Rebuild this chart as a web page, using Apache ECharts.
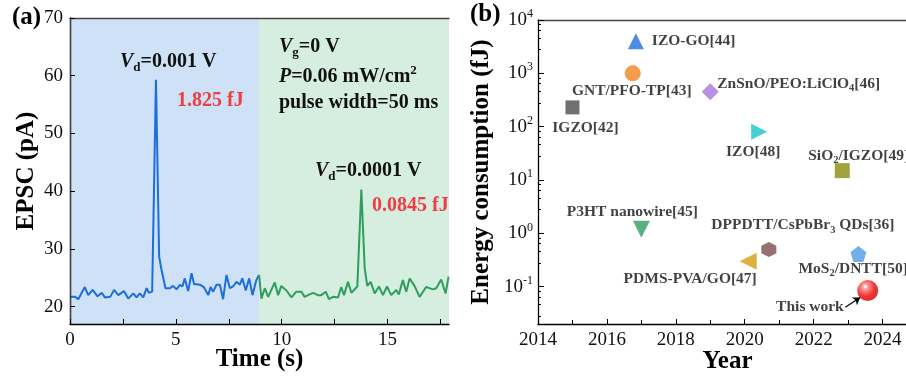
<!DOCTYPE html>
<html><head><meta charset="utf-8">
<script src="https://cdn.jsdelivr.net/npm/echarts@6/dist/echarts.min.js"></script>
<style>html,body{margin:0;padding:0;background:#fff}#c{width:906px;height:376px}</style>
</head><body><div id="c"></div>
<script>
// ---- Panel (a) data ----
const timesBlue = [0,0.24,0.39,0.7,0.86,1.07,1.3,1.5,1.65,1.9,2.08,2.28,2.55,2.75,2.99,3.14,3.3,3.46,3.62,3.73,3.88,3.95,4.06,4.21,4.32,4.51,4.72,4.87,5.03,5.19,5.31,5.42,5.58,5.74,5.86,5.97,6.13,6.32,6.53,6.64,6.76,6.92,7.08,7.23,7.39,7.55,7.7,7.86,8.02,8.14,8.3,8.46,8.62,8.8,8.93];
const valuesBlue = [21.7,21.7,21.3,23.4,22.0,22.9,21.8,22.4,21.6,21.7,22.9,22.0,22.7,21.4,22.3,21.6,22.3,21.6,23.2,22.4,22.6,22.7,59.3,28.7,26.4,23.2,23.2,23.6,23.0,23.8,23.5,24.9,22.7,25.8,23.9,23.9,23.8,23.4,22.0,23.4,22.6,23.8,23.8,21.3,25.5,23.2,23.5,24.3,23.8,24.9,22.8,24.9,22.0,24.6,25.5];
const timesGreen = [8.93,9.04,9.2,9.36,9.67,9.83,9.98,10.22,10.46,10.69,10.93,11.08,11.24,11.48,11.71,11.87,12.08,12.23,12.42,12.66,12.81,12.94,13.13,13.29,13.57,13.66,13.76,13.92,14.04,14.2,14.39,14.59,14.78,14.97,15.17,15.41,15.53,15.72,15.88,16.04,16.27,16.51,16.82,17.14,17.3,17.53,17.74,17.88];
const valuesGreen = [25.5,21.4,23.2,21.7,24.2,22.0,23.6,22.8,21.6,22.6,22.6,21.7,22.0,22.4,22.0,22.0,22.6,21.3,21.7,21.6,23.4,22.0,24.3,22.4,23.5,23.6,40.3,26.6,23.6,24.3,22.3,23.5,22.0,23.5,22.0,22.9,22.1,24.6,22.6,24.9,23.6,21.7,23.4,23.0,23.2,24.7,22.3,25.2];
const regionBlue = [0, 8.93];
const regionGreen = [8.93, 17.9];
const timeTickLabels = [0,5,10,15];
const epscTickLabels = [20,30,40,50,60,70];

// ---- Panel (b) data ----
const deviceNames = ['IGZO[42]','GNT/PFO-TP[43]','IZO-GO[44]','ZnSnO/PEO:LiClO{s|4}[46]','IZO[48]','SiO{s|2}/IGZO[49]','P3HT nanowire[45]','DPPDTT/CsPbBr{s|3} QDs[36]','PDMS-PVA/GO[47]','MoS{s|2}/DNTT[50]','This work'];
const deviceYears = [2015.0,2016.75,2016.84,2019.0,2020.42,2022.83,2017.0,2020.7,2020.1,2023.3,2023.57];
const deviceEnergy = [230,1000,4000,450,80,15,1.2,0.5,0.3,0.41,0.0845];
const yearTicks = [2014,2016,2018,2020,2022,2024];

// ---- styles ----
const SERIF = '"Liberation Serif","Times New Roman",serif';
const hexPath = 'path://M0,-10 L8.66,-5 L8.66,5 L0,10 L-8.66,5 L-8.66,-5Z';
const pentPath = 'path://M0,-10 L9.51,-3.09 L5.88,8.09 L-5.88,8.09 L-9.51,-3.09Z';
const sphere = {type:'radial',x:0.38,y:0.32,r:0.75,colorStops:[{offset:0,color:'#ffffff'},{offset:0.22,color:'#ff7070'},{offset:0.6,color:'#f00000'},{offset:1,color:'#c00000'}]};
const markerStyles = [
  {symbol:'rect',size:14,rot:0,color:'#4d4d4d',align:'center',off:[13,21]},
  {symbol:'circle',size:16,rot:0,color:'#f58220',align:'center',off:[-1,18]},
  {symbol:'triangle',size:16,rot:0,color:'#1f6fdf',align:'left',off:[16,0]},
  {symbol:'diamond',size:17,rot:0,color:'#a873dc',align:'left',off:[7,-8]},
  {symbol:'triangle',size:16,rot:-90,color:'#19c4c9',align:'center',off:[-6,20]},
  {symbol:'rect',size:15,rot:0,color:'#8a8a0e',align:'left',off:[-34,-15]},
  {symbol:'triangle',size:17,rot:180,color:'#2f9e62',align:'center',off:[-9,-17]},
  {symbol:hexPath,size:15,rot:0,color:'#7b4d4d',align:'center',off:[34,-24]},
  {symbol:'triangle',size:17,rot:90,color:'#d39e12',align:'center',off:[-58,18]},
  {symbol:pentPath,size:16,rot:0,color:'#4f9be2',align:'left',off:[-60,15]},
  {symbol:'circle',size:21,rot:0,color:sphere,align:'right',off:[-24,16]}
];

function pairs(xs, ys){ return xs.map((x,i)=>[x, ys[i]]); }
function supLabel(v){
  const e = Math.round(Math.log10(v));
  if (Math.abs(Math.log10(v) - e) > 1e-6) return '';
  return '{b|10}{s|' + e + '}';
}

const chart = echarts.init(document.getElementById('c'), null, {renderer:'canvas'});

const tickLabelStyle = {fontFamily:SERIF, fontSize:19, color:'#111'};
const nameStyle = {fontFamily:SERIF, fontSize:25, fontWeight:'bold', color:'#000'};
const lineAx = {lineStyle:{color:'#000', width:1.3}};

const scatterData = deviceNames.map((n,i)=>{
  const m = markerStyles[i];
  return {
    value:[deviceYears[i], deviceEnergy[i]],
    symbol:m.symbol, symbolSize:m.size, symbolRotate:m.rot,
    itemStyle:{color:m.color},
    label:{show:true, position:'inside', align:m.align, verticalAlign:'middle', offset:m.off,
      formatter:n, fontFamily:SERIF, fontSize:15.5, fontWeight:'bold', color:'#111',
      rich:{s:{fontFamily:SERIF, fontSize:10.5, fontWeight:'bold', color:'#111', lineHeight:10, padding:[9,0,0,0]}}}
  };
});

const richA = {
  n:{fontFamily:SERIF,fontSize:20,fontWeight:'bold',fill:'#111',lineHeight:28},
  i:{fontFamily:SERIF,fontSize:20,fontWeight:'bold',fontStyle:'italic',fill:'#111',lineHeight:28},
  sub:{fontFamily:SERIF,fontSize:13,fontWeight:'bold',fill:'#111',lineHeight:13,padding:[11,0,0,0]},
  sup:{fontFamily:SERIF,fontSize:13,fontWeight:'bold',fill:'#111',lineHeight:13,padding:[0,0,13,0]},
  r:{fontFamily:SERIF,fontSize:20,fontWeight:'bold',fill:'#ee3e44',lineHeight:28}
};
function txt(x,y,text){
  return {type:'text', x:x, y:y, z:100, style:{text:text, rich:richA, align:'left', verticalAlign:'middle', fill:'#111', font:'bold 20px '+SERIF}};
}

const option = {
  backgroundColor:'#fff',
  animation:false,
  grid:[
    {left:70, top:18, width:379, height:306, outerBoundsMode:'none', containLabel:false},
    {left:538, top:20, width:379, height:304, outerBoundsMode:'none', containLabel:false}
  ],
  xAxis:[
    {gridIndex:0, type:'value', min:0, max:17.9, position:'bottom', z:10,
     axisLine:lineAx, splitLine:{show:false},
     axisTick:{inside:true, length:5, customValues:[0,2.5,5,7.5,10,12.5,15,17.5], lineStyle:{color:'#000'}},
     axisLabel:{customValues:timeTickLabels, margin:7, ...tickLabelStyle},
     name:'Time (s)', nameLocation:'middle', nameGap:23, nameMoveOverlap:false, nameTextStyle:nameStyle},
    {gridIndex:0, type:'value', min:0, max:17.9, position:'top', z:10,
     axisLine:{lineStyle:{color:'#444', width:1.3}}, axisTick:{show:false}, axisLabel:{show:false}, splitLine:{show:false}},
    {gridIndex:1, type:'value', min:2014, max:2025, interval:2, position:'bottom', z:10,
     axisLine:lineAx, splitLine:{show:false},
     axisTick:{inside:true, length:5, lineStyle:{color:'#000'}},
     minorTick:{show:true, splitNumber:2, length:4, lineStyle:{color:'#000'}},
     axisLabel:{margin:7, formatter:v=>String(v), showMaxLabel:false, ...tickLabelStyle},
     name:'Year', nameLocation:'middle', nameGap:25, nameMoveOverlap:false, nameTextStyle:nameStyle},
    {gridIndex:1, type:'value', min:2014, max:2025, position:'top', z:10,
     axisLine:{lineStyle:{color:'#444', width:1.3}}, axisTick:{show:false}, axisLabel:{show:false}, splitLine:{show:false}}
  ],
  yAxis:[
    {gridIndex:0, type:'value', min:17, max:70, position:'left', z:10,
     axisLine:lineAx, splitLine:{show:false},
     axisTick:{inside:true, length:5, customValues:epscTickLabels, lineStyle:{color:'#000'}},
     axisLabel:{customValues:epscTickLabels, margin:7, ...tickLabelStyle},
     name:'EPSC (pA)', nameLocation:'middle', nameGap:31, nameRotate:90, nameMoveOverlap:false, nameTextStyle:nameStyle},
    {gridIndex:0, type:'value', min:17, max:70, position:'right', z:10,
     axisLine:{lineStyle:{color:'#444', width:1.3}}, axisTick:{show:false}, axisLabel:{show:false}, splitLine:{show:false}},
    {gridIndex:1, type:'log', logBase:10, min:0.02, max:10000, position:'left', z:10,
     axisLine:lineAx, splitLine:{show:false},
     axisTick:{inside:true, length:6, lineStyle:{color:'#000'}},
     minorTick:{show:true, splitNumber:5, length:3, lineStyle:{color:'#000'}},
     axisLabel:{margin:5, showMinLabel:false, formatter:supLabel,
       rich:{b:{fontFamily:SERIF,fontSize:19,color:'#111',lineHeight:24},
             s:{fontFamily:SERIF,fontSize:12,color:'#111',lineHeight:12,padding:[0,0,12,0]}}},
     name:'Energy consumption (fJ)', nameLocation:'middle', nameGap:44, nameRotate:90, nameMoveOverlap:false, nameTextStyle:nameStyle}
  ],
  series:[
    {type:'line', xAxisIndex:0, yAxisIndex:0, data:pairs(timesBlue, valuesBlue), showSymbol:false,
     lineStyle:{color:'#1b6fdd', width:2}, z:3,
     markArea:{silent:true, itemStyle:{color:'#cfe1f6'}, data:[[{xAxis:regionBlue[0]},{xAxis:regionBlue[1]}]]}},
    {type:'line', xAxisIndex:0, yAxisIndex:0, data:pairs(timesGreen, valuesGreen), showSymbol:false,
     lineStyle:{color:'#2e9e5c', width:2}, z:3,
     markArea:{silent:true, itemStyle:{color:'#d6eee0'}, data:[[{xAxis:regionGreen[0]},{xAxis:regionGreen[1]}]]}},
    {type:'scatter', xAxisIndex:2, yAxisIndex:2, data:scatterData, z:4,
     markLine:{silent:true, symbol:['none','arrow'], symbolSize:7, label:{show:false},
       lineStyle:{color:'#000', width:1.2, type:'solid'},
       data:[[{coord:[2022.92,0.041]},{coord:[2023.35,0.063]}]]}}
  ],
  graphic:[
    {type:'text', left:12, top:5, style:{text:'(a)', font:'bold 25px '+SERIF, fill:'#000'}},
    {type:'text', left:470, top:2, style:{text:'(b)', font:'bold 25px '+SERIF, fill:'#000'}},
    txt(120,62,'{i|V}{sub|d}{n|=0.001 V}'),
    txt(177,101,'{r|1.825 fJ}'),
    txt(279,47,'{i|V}{sub|g}{n|=0 V}'),
    txt(279,77,'{i|P}{n|=0.06 mW/cm}{sup|2}'),
    txt(279,103,'{n|pulse width=50 ms}'),
    txt(315,171,'{i|V}{sub|d}{n|=0.0001 V}'),
    txt(372,206,'{r|0.0845 fJ}')
  ]
};
chart.setOption(option);
</script></body></html>
